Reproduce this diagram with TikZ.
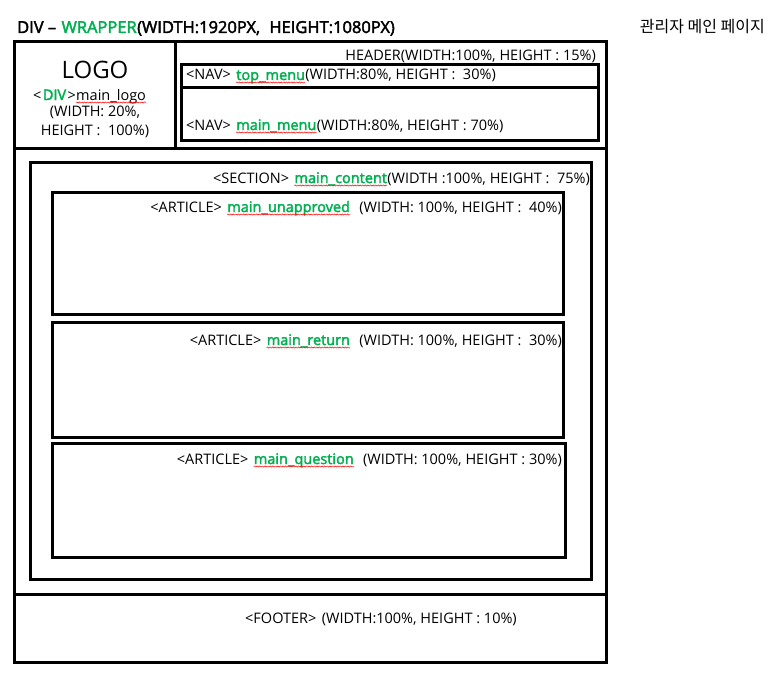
\documentclass[tikz,border=0pt]{standalone}
\usepackage{fontspec}
\setmainfont{Open Sans}[AutoFakeBold=2.5]
\newfontfamily\kr{Noto Sans CJK KR}
\usetikzlibrary{decorations.pathmorphing}
\definecolor{grn}{RGB}{0,176,80}
\begin{document}
\begin{tikzpicture}[x=1pt,y=-1pt,
  box/.style={draw, line width=3pt},
  t/.style={inner sep=0pt, font=\fontsize{14.5}{16}\selectfont},
  g/.style={inner sep=0pt, text=grn, font=\fontsize{14.5}{16}\selectfont\bfseries},
  ttl/.style={inner sep=0pt, font=\fontsize{16.5}{18}\selectfont\bfseries},
  wave/.style={draw=red, line width=0.5pt, decorate, decoration={snake, amplitude=0.6pt, segment length=2.6pt}}]
\useasboundingbox[fill=white] (0,0) rectangle (775,682);
% boxes
\draw[box] (14,42) rectangle (606,662);
\draw[box] (175,42) -- (175,148);
\draw[box] (14,148) -- (606,148);
\draw[box] (14,594) -- (606,594);
\draw[box] (181,65) rectangle (598,140);
\draw[box] (181,88) -- (598,88);
\draw[box] (30,162) rectangle (591,579);
\draw[box] (52,192) rectangle (563,314);
\draw[box] (52,322) rectangle (563,437);
\draw[box] (52,443) rectangle (565,557);
% title
\node[ttl, anchor=base west] (t1) at (17,33) {DIV --};
\node[ttl, anchor=base west, text=grn] (t2) at ([xshift=5pt]t1.base east) {WRAPPER};
\node[ttl, anchor=base west] (t3) at (t2.base east) {(WIDTH:1920PX,};
\node[ttl, anchor=base west] (t4) at ([xshift=9pt]t3.base east) {HEIGHT:1080PX)};
\node[inner sep=0pt, anchor=base east, font=\kr\fontsize{16}{18}\selectfont] (kr) at (765,33) {관리자 메인 페이지};
% header
\node[t, anchor=base east] (hd) at (596,61) {HEADER(WIDTH:100\%, HEIGHT : 15\%)};
\node[t, anchor=base west] (n1) at (186,80) {<NAV>};
\node[g, anchor=base west] (n2) at ([xshift=5pt]n1.base east) {top\_menu};
\node[t, anchor=base west] (n3) at (n2.base east) {(WIDTH:80\%, HEIGHT :\ \ 30\%)};
\draw[wave] ([yshift=-2.5pt]n2.base west) -- ([yshift=-2.5pt]n2.base east);
\node[t, anchor=base west] (m1) at (186,130) {<NAV>};
\node[g, anchor=base west] (m2) at ([xshift=5pt]m1.base east) {main\_menu};
\node[t, anchor=base west] (m3) at (m2.base east) {(WIDTH:80\%, HEIGHT : 70\%)};
\draw[wave] ([yshift=-2.5pt]m2.base west) -- ([yshift=-2.5pt]m2.base east);
% logo
\node[inner sep=0pt, anchor=base, font=\fontsize{24}{26}\selectfont] (logo) at (95,79) {LOGO};
\node[t, anchor=base west] (l1) at (33,100) {<};
\node[g, anchor=base west] (l2) at ([xshift=1pt]l1.base east) {DIV};
\node[t, anchor=base west] (l3) at ([xshift=1pt]l2.base east) {>};
\node[t, anchor=base west] (l4) at (l3.base east) {main\_logo};
\draw[wave] ([yshift=-2.5pt]l4.base west) -- ([yshift=-2.5pt]l4.base east);
\node[t, anchor=base] (l5) at (95,117) {(WIDTH: 20\%,};
\node[t, anchor=base] (l6) at (95,135) {HEIGHT :\ \ 100\%)};
% section
\node[t, anchor=base east] (s3) at (590,183) {(WIDTH :100\%, HEIGHT :\ \ 75\%)};
\node[g, anchor=base east] (s2) at (s3.base west) {main\_content};
\node[t, anchor=base east] (s1) at ([xshift=-5pt]s2.base west) {<SECTION>};
\draw[wave] ([yshift=-2.5pt]s2.base west) -- ([yshift=-2.5pt]s2.base east);
% articles
\node[t, anchor=base east] (a3) at (562,212) {(WIDTH: 100\%, HEIGHT :\ \ 40\%)};
\node[g, anchor=base east] (a2) at ([xshift=-9pt]a3.base west) {main\_unapproved};
\node[t, anchor=base east] (a1) at ([xshift=-5pt]a2.base west) {<ARTICLE>};
\draw[wave] ([yshift=-2.5pt]a2.base west) -- ([yshift=-2.5pt]a2.base east);
\node[t, anchor=base east] (b3) at (562,345) {(WIDTH: 100\%, HEIGHT :\ \ 30\%)};
\node[g, anchor=base east] (b2) at ([xshift=-9pt]b3.base west) {main\_return};
\node[t, anchor=base east] (b1) at ([xshift=-5pt]b2.base west) {<ARTICLE>};
\draw[wave] ([yshift=-2.5pt]b2.base west) -- ([yshift=-2.5pt]b2.base east);
\node[t, anchor=base east] (c3) at (562,464) {(WIDTH: 100\%, HEIGHT : 30\%)};
\node[g, anchor=base east] (c2) at ([xshift=-9pt]c3.base west) {main\_question};
\node[t, anchor=base east] (c1) at ([xshift=-5pt]c2.base west) {<ARTICLE>};
\draw[wave] ([yshift=-2.5pt]c2.base west) -- ([yshift=-2.5pt]c2.base east);
% footer
\node[t, anchor=base west] (f1) at (245,623) {<FOOTER>};
\node[t, anchor=base west] (f2) at ([xshift=5pt]f1.base east) {(WIDTH:100\%, HEIGHT : 10\%)};
\end{tikzpicture}
\end{document}
